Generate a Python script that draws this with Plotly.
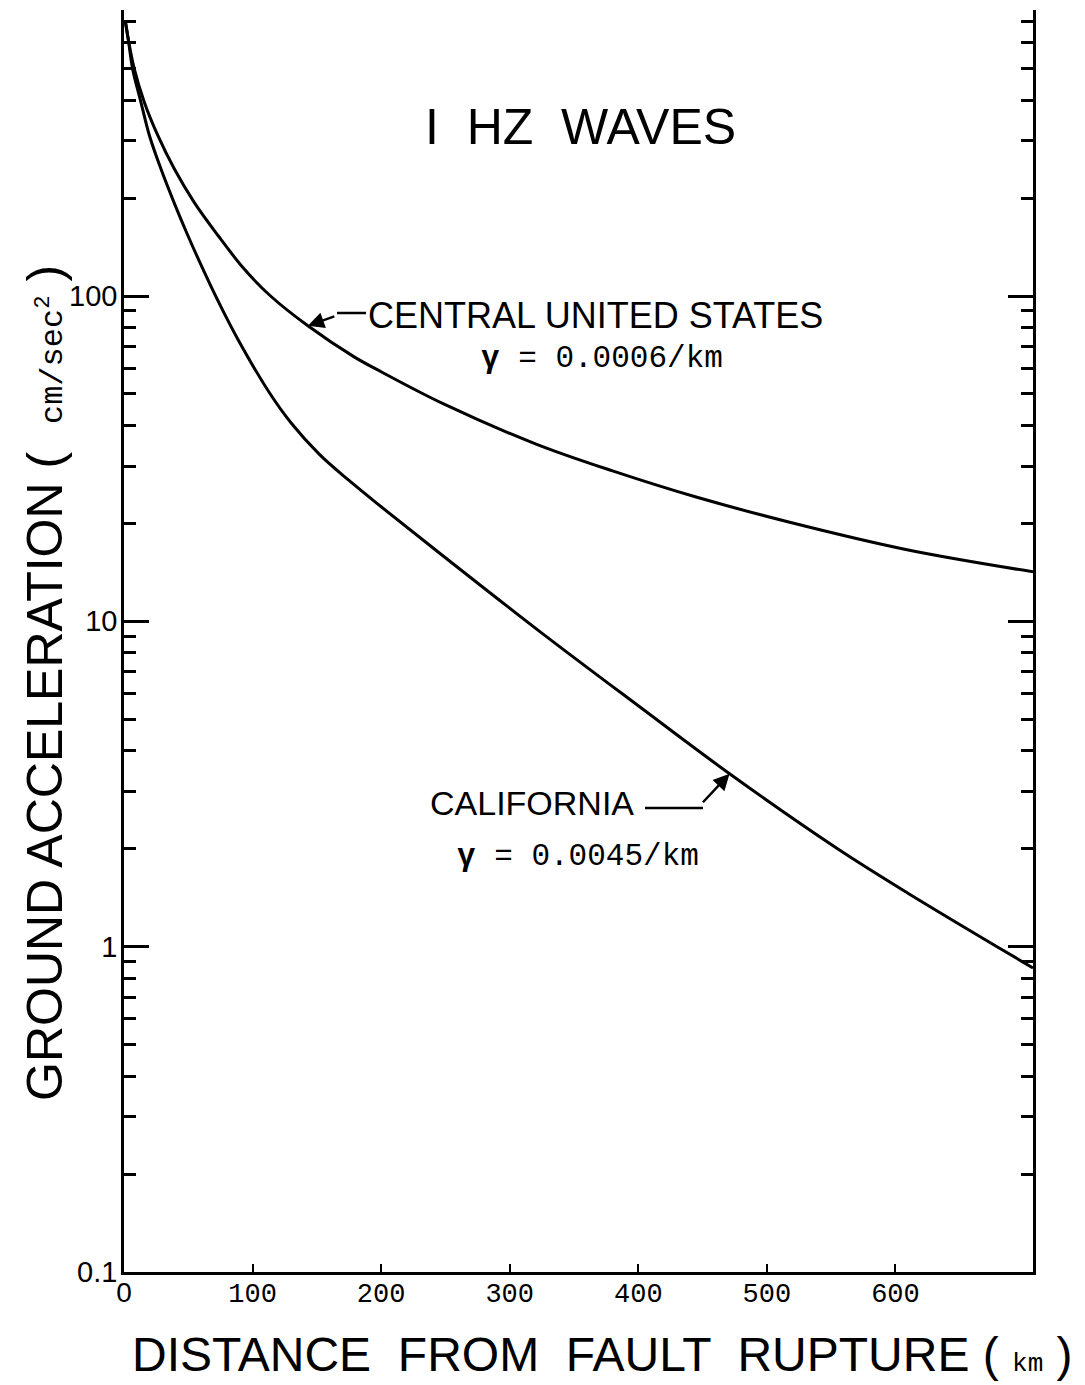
import numpy as np
import plotly.graph_objects as go

# ---- data ----
cus_km = [1, 3.3, 8, 15.8, 26.2, 39.1, 54.6, 72.8, 93.5, 114, 143, 179, 200, 249, 321, 380, 445, 517, 609, 707]
cus_acc = [700, 616, 499, 394, 312, 246, 194, 154, 121, 100, 81, 65, 58.5, 46.5, 35, 29, 24.1, 20.2, 16.6, 14.2]

cal_km = [1, 3.3, 6.7, 13.2, 19.7, 28.7, 39.1, 49.5, 62.4, 72.8, 88, 113, 130, 152, 175, 200, 249, 325, 400, 471, 555, 611, 707]
cal_acc = [700, 616, 499, 394, 312, 246, 193, 154, 118.6, 97.2, 74.3, 50.5, 40.7, 32.6, 27.1, 22.5, 15.8, 9.2, 5.5, 3.4, 2.0, 1.45, 0.86]

x_tickvals = [0, 100, 200, 300, 400, 500, 600]
x_ticktext = ["<span style='font-family:Liberation Sans;font-size:28px'>0</span>",
              "100", "200", "300", "400", "500", "600"]
y_tickvals = [0.1, 1, 10, 100]
y_ticktext = ["0.1", "1", "10", "100"]
y_minor = [m * d for d in (0.1, 1, 10, 100) for m in range(2, 10)]

X_MAX = 707
Y_MAX = 757

W, H = 1085, 1385
OFF = 8  # page body margin
L, R, T, B = 124, 1033, 10, 1272   # plot area in picture pixels


def px(xp):
    return (xp - L) / (R - L)


def py(yp):
    return (B - yp) / (B - T)


SANS = "Liberation Sans, Arial, sans-serif"
MONO = "Liberation Mono, Courier New, monospace"

fig = go.Figure()
for xs, ys in ((cus_km, cus_acc), (cal_km, cal_acc)):
    fig.add_trace(go.Scatter(x=xs, y=ys, mode="lines",
                             line=dict(color="black", width=3, shape="spline", smoothing=1.0),
                             showlegend=False, hoverinfo="skip"))

fig.update_layout(
    width=W, height=H,
    margin=dict(l=L - OFF, r=W - (R - OFF), t=T - OFF, b=H - (B - OFF)),
    paper_bgcolor="white", plot_bgcolor="white",
    showlegend=False,
)

fig.update_xaxes(
    range=[0, X_MAX], showgrid=False, zeroline=False,
    showline=True, linecolor="black", linewidth=2.5, mirror=False,
    ticks="inside", ticklen=8, tickwidth=2, tickcolor="black",
    tickvals=x_tickvals, ticktext=x_ticktext, ticklabelstandoff=-5,
    tickfont=dict(family=MONO, size=27, color="black"),
)
fig.update_yaxes(
    type="log", range=[-1, np.log10(Y_MAX)], showgrid=False, zeroline=False,
    showline=True, linecolor="black", linewidth=2.5, mirror="ticks",
    ticks="inside", ticklen=25, tickwidth=2.5, tickcolor="black",
    tickvals=y_tickvals, ticktext=y_ticktext, ticklabelstandoff=-2,
    tickfont=dict(family=SANS, size=29, color="black"),
    minor=dict(ticks="inside", ticklen=12, tickwidth=2.5, tickcolor="black",
               tickvals=y_minor, showgrid=False),
)


def label(text, xp, yp, font, angle=0):
    return dict(text=text, x=px(xp), y=py(yp), xref="paper", yref="paper",
                xanchor="center", yanchor="middle", textangle=angle,
                showarrow=False, font=font)


ann = [
    label("I  HZ  WAVES", 580, 127, dict(family=SANS, size=50, color="black")),
    label("CENTRAL UNITED STATES", 595, 315, dict(family=SANS, size=36, color="black")),
    label("<b>γ</b> = 0.0006/km", 602, 358, dict(family=MONO, size=31, color="black")),
    label("CALIFORNIA", 532, 803, dict(family=SANS, size=34, color="black")),
    label("<b>γ</b> = 0.0045/km", 578, 856, dict(family=MONO, size=31, color="black")),
    label("GROUND ACCELERATION (  <span style='font-family:Liberation Mono;font-size:32px'>cm/sec<sup>2</sup></span> )",
          45, 683, dict(family=SANS, size=50, color="black"), angle=-90),
    label("DISTANCE  FROM  FAULT  RUPTURE ( <span style='font-family:Liberation Mono;font-size:26px'>km</span> )",
          602, 1355, dict(family=SANS, size=48, color="black")),
    # arrows pointing to the curves
    dict(text="", x=cus_km[10], y=np.log10(cus_acc[10]), xref="x", yref="y",
         showarrow=True, arrowhead=2, arrowsize=1.3, arrowwidth=2.5, arrowcolor="black",
         ax=28, ay=-10, standoff=0),
    dict(text="", x=cal_km[19], y=np.log10(cal_acc[19]), xref="x", yref="y",
         showarrow=True, arrowhead=2, arrowsize=1.3, arrowwidth=2.5, arrowcolor="black",
         ax=-28, ay=30, standoff=0),
]
fig.update_layout(annotations=ann)

shapes = [
    dict(type="line", xref="paper", yref="paper", x0=px(337), y0=py(313), x1=px(366), y1=py(313),
         line=dict(color="black", width=2.5)),
    dict(type="line", xref="paper", yref="paper", x0=px(645), y0=py(808), x1=px(703), y1=py(808),
         line=dict(color="black", width=2.5)),
]
fig.update_layout(shapes=shapes)

fig.write_html("out.html")
